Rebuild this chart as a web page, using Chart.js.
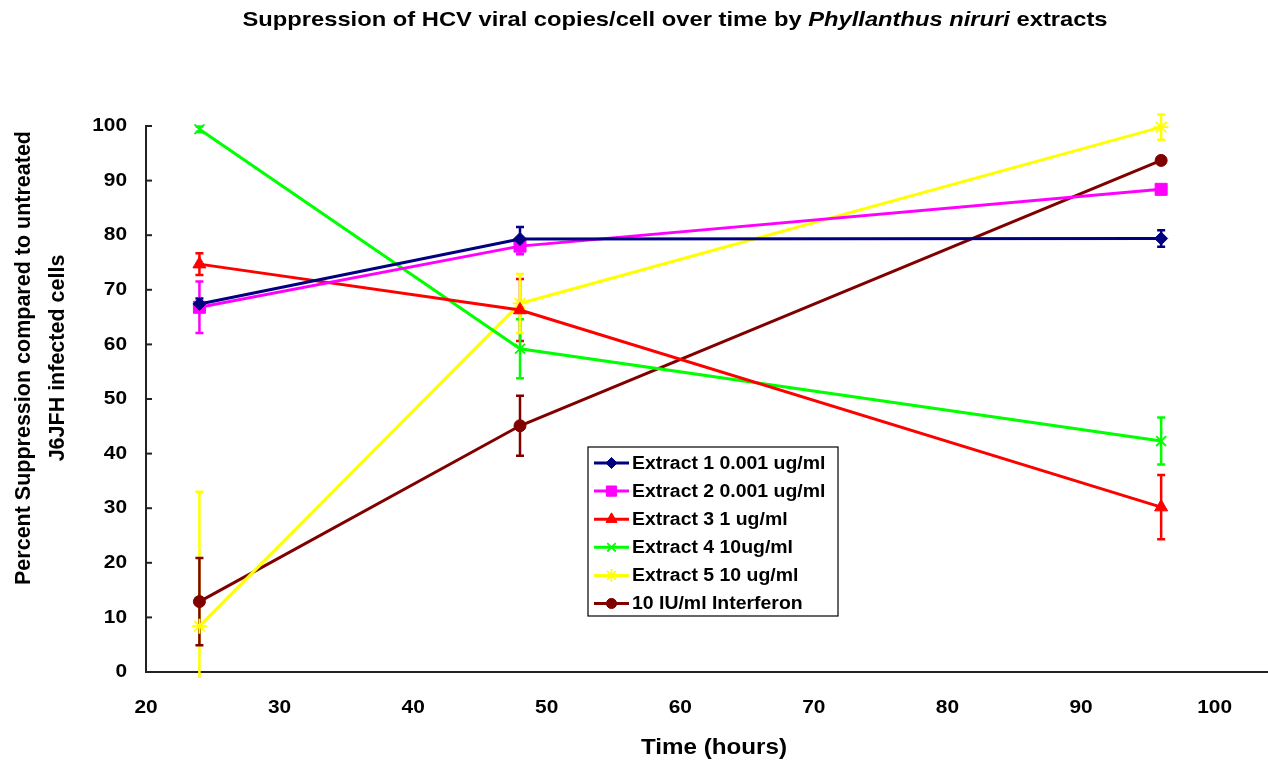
<!DOCTYPE html>
<html>
<head>
<meta charset="utf-8">
<script src="https://cdn.jsdelivr.net/npm/chart.js"></script>
<style>
  html, body { margin: 0; padding: 0; background: #ffffff; }
  #wrap { width: 1268px; height: 766px; }
</style>
</head>
<body>
<div id="wrap"><canvas id="chart"></canvas></div>
<script>
const FONT = '"Liberation Sans", Arial, sans-serif';

// time points (hours) and axis ticks
const hours = [24, 48, 96];
const xTicks = [20, 30, 40, 50, 60, 70, 80, 90, 100];
const yTicks = [0, 10, 20, 30, 40, 50, 60, 70, 80, 90, 100];

// percent suppression per treatment, with +/- error
const extract1 = [67.4, 79.3, 79.4];
const extract1Err = [1.0, 2.2, 1.5];
const extract2 = [66.8, 78.0, 88.4];
const extract2Err = [4.7, 1.5, 0.5];
const extract3 = [74.7, 66.3, 30.2];
const extract3Err = [2.0, 5.7, 5.9];
const extract4 = [99.4, 59.2, 42.3];
const extract4Err = [0.5, 5.4, 4.3];
const extract5 = [8.4, 67.5, 99.8];
const extract5Err = [24.6, 5.4, 2.3];
const interferon = [12.9, 45.1, 93.7];
const interferonErr = [8.0, 5.5, 0.5];

const labels = [
  'Extract 1 0.001 ug/ml',
  'Extract 2 0.001 ug/ml',
  'Extract 3 1 ug/ml',
  'Extract 4 10ug/ml',
  'Extract 5 10 ug/ml',
  '10 IU/ml Interferon'
];

function series(label, values, errs, color, style, radius, fill) {
  return {
    label,
    data: values.map((v, i) => ({ x: hours[i], y: v })),
    errors: errs,
    borderColor: color,
    backgroundColor: fill ? color : 'transparent',
    pointBorderColor: color,
    pointBackgroundColor: color,
    pointStyle: style,
    pointRadius: radius,
    pointBorderWidth: fill ? 1 : 1.8,
    borderWidth: 3,
    tension: 0,
    clip: false
  };
}

const datasets = [
  series(labels[0], extract1, extract1Err, '#000080', 'rectRot', 6.5, true),
  series(labels[1], extract2, extract2Err, '#ff00ff', 'rect', 8.5, true),
  series(labels[2], extract3, extract3Err, '#ff0000', 'triangle', 7.5, true),
  series(labels[3], extract4, extract4Err, '#00ff00', 'crossRot', 7, false),
  series(labels[4], extract5, extract5Err, '#ffff00', 'star', 7.5, false),
  series(labels[5], interferon, interferonErr, '#800000', 'circle', 6, true)
];

// draw text stretched sideways
function wideText(ctx, text, x, y, sx) {
  ctx.save();
  ctx.translate(x, y);
  ctx.scale(sx, 1);
  ctx.fillText(text, 0, 0);
  ctx.restore();
}

// vertical error bars with caps
const errorBars = {
  id: 'errorBars',
  beforeDatasetsDraw(chart) {
    const { ctx, scales: { x, y }, chartArea } = chart;
    ctx.save();
    chart.data.datasets.forEach(ds => {
      ctx.strokeStyle = ds.borderColor;
      ctx.lineWidth = 2.5;
      ds.data.forEach((p, i) => {
        const e = ds.errors[i];
        const px = x.getPixelForValue(p.x);
        const top = y.getPixelForValue(p.y + e);
        let bot = y.getPixelForValue(p.y - e);
        const clipped = bot > chartArea.bottom + 6;
        if (clipped) bot = chartArea.bottom + 6;
        ctx.beginPath();
        ctx.moveTo(px, top);
        ctx.lineTo(px, bot);
        ctx.moveTo(px - 4, top);
        ctx.lineTo(px + 4, top);
        if (!clipped) {
          ctx.moveTo(px - 4, bot);
          ctx.lineTo(px + 4, bot);
        }
        ctx.stroke();
      });
    });
    ctx.restore();
  }
};

// titles, tick labels, inward y ticks and boxed legend
const decorations = {
  id: 'decorations',
  afterDraw(chart) {
    const { ctx, scales: { x, y }, chartArea } = chart;
    ctx.save();

    // y tick marks pointing into the plot
    ctx.strokeStyle = '#222';
    ctx.lineWidth = 2;
    yTicks.forEach(v => {
      const py = y.getPixelForValue(v);
      ctx.beginPath();
      ctx.moveTo(chartArea.left, py);
      ctx.lineTo(chartArea.left + 6, py);
      ctx.stroke();
    });

    ctx.fillStyle = '#000';
    ctx.textBaseline = 'middle';

    // tick labels
    ctx.font = 'bold 19px ' + FONT;
    ctx.textAlign = 'right';
    yTicks.forEach(v => wideText(ctx, String(v), 127, y.getPixelForValue(v), 1.1));
    ctx.textAlign = 'center';
    xTicks.forEach(v => wideText(ctx, String(v), x.getPixelForValue(v), 708, 1.1));

    // chart title with italic species name
    const parts = [
      ['Suppression of HCV viral copies/cell over time by ', 'bold'],
      ['Phyllanthus niruri', 'italic bold'],
      [' extracts', 'bold']
    ];
    const sx = 1.13;
    let total = 0;
    parts.forEach(p => { ctx.font = p[1] + ' 21px ' + FONT; total += ctx.measureText(p[0]).width * sx; });
    let tx = 675 - total / 2;
    ctx.textAlign = 'left';
    parts.forEach(p => {
      ctx.font = p[1] + ' 21px ' + FONT;
      wideText(ctx, p[0], tx, 20, sx);
      tx += ctx.measureText(p[0]).width * sx;
    });

    // axis titles
    ctx.textAlign = 'center';
    ctx.font = 'bold 22px ' + FONT;
    wideText(ctx, 'Time (hours)', 714, 748, 1.1);
    ctx.font = 'bold 21.5px ' + FONT;
    ctx.save();
    ctx.translate(24, 358);
    ctx.rotate(-Math.PI / 2);
    ctx.fillText('Percent Suppression compared to untreated', 0, 0);
    ctx.restore();
    ctx.save();
    ctx.translate(58, 358);
    ctx.rotate(-Math.PI / 2);
    ctx.fillText('J6JFH infected cells', 0, 0);
    ctx.restore();

    // legend box
    const bx = 588, by = 447, bw = 250, bh = 169;
    ctx.fillStyle = '#fff';
    ctx.fillRect(bx, by, bw, bh);
    ctx.strokeStyle = '#000';
    ctx.lineWidth = 1.2;
    ctx.strokeRect(bx, by, bw, bh);
    ctx.font = 'bold 18px ' + FONT;
    ctx.textAlign = 'left';
    chart.data.datasets.forEach((ds, i) => {
      const ry = 463 + i * 28.1;
      ctx.strokeStyle = ds.borderColor;
      ctx.lineWidth = 3;
      ctx.beginPath();
      ctx.moveTo(594, ry);
      ctx.lineTo(629, ry);
      ctx.stroke();
      ctx.fillStyle = ds.pointBackgroundColor;
      ctx.strokeStyle = ds.pointBorderColor;
      ctx.lineWidth = ds.pointBorderWidth;
      Chart.helpers.drawPoint(ctx, {
        pointStyle: ds.pointStyle,
        radius: ds.pointRadius * 0.85,
        rotation: 0,
        borderWidth: ds.pointBorderWidth
      }, 611.5, ry);
      ctx.fillStyle = '#000';
      wideText(ctx, ds.label, 632, ry + 1, 1.08);
    });

    ctx.restore();
  }
};

new Chart(document.getElementById('chart'), {
  type: 'line',
  data: { datasets },
  plugins: [errorBars, decorations],
  options: {
    responsive: true,
    maintainAspectRatio: false,
    animation: false,
    layout: { autoPadding: false, padding: { top: 126, right: 0, bottom: 0, left: 0 } },
    plugins: {
      legend: { display: false },
      tooltip: { enabled: false },
      title: { display: false }
    },
    scales: {
      x: {
        type: 'linear',
        min: 20,
        max: 104,
        afterBuildTicks: s => { s.ticks = xTicks.map(v => ({ value: v })); },
        afterFit: s => { s.height = 94; },
        grid: { display: false, drawTicks: false },
        border: { color: '#222', width: 2 },
        ticks: { display: false }
      },
      y: {
        type: 'linear',
        min: 0,
        max: 100,
        afterBuildTicks: s => { s.ticks = yTicks.map(v => ({ value: v })); },
        afterFit: s => { s.width = 146; },
        grid: { display: false, drawTicks: false },
        border: { color: '#222', width: 2 },
        ticks: { display: false }
      }
    }
  }
});
</script>
</body>
</html>
